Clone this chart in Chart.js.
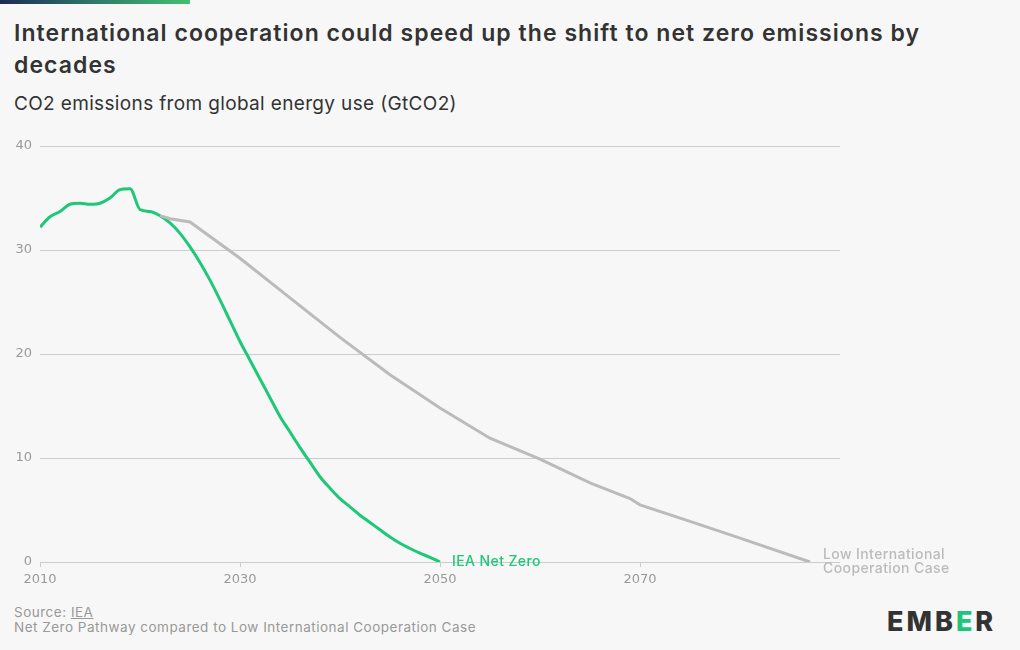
<!DOCTYPE html>
<html>
<head>
<meta charset="utf-8">
<script src="https://cdn.jsdelivr.net/npm/chart.js@4.4.0/dist/chart.umd.min.js"></script>
<style>
  html,body{margin:0;padding:0;background:#f7f7f7;}
  body{width:1020px;height:650px;position:relative;overflow:hidden;font-family:Inter, "Noto Sans", sans-serif;}
  #bar{position:absolute;left:0;top:0;width:190px;height:4px;background:linear-gradient(90deg,#1c2a55,#2f7a6a 50%,#42c070);}
  #title{position:absolute;left:14px;top:17px;width:990px;font-size:23px;font-weight:600;color:#333;line-height:32px;letter-spacing:1.05px;}
  #subtitle{position:absolute;left:14px;top:92px;font-size:19px;color:#333;letter-spacing:0.35px;}
  #wrap{position:absolute;left:0;top:130px;width:1020px;height:470px;}
  #foot{position:absolute;left:14px;top:605px;font-size:13.5px;color:#999;line-height:15px;letter-spacing:0.5px;}
  #foot u{text-decoration:underline;}
  #logo{position:absolute;left:887px;top:605px;font-size:27px;font-weight:800;color:#333;letter-spacing:3px;font-family:Inter, sans-serif;}
  #logo span{color:#21c47a;}
</style>
</head>
<body>
<div id="bar"></div>
<div id="title">International cooperation could speed up the shift to net zero emissions by decades</div>
<div id="subtitle">CO2 emissions from global energy use (GtCO2)</div>
<div id="wrap"><canvas id="c"></canvas></div>
<div id="foot">Source: <u>IEA</u><br>Net Zero Pathway compared to Low International Cooperation Case</div>
<div id="logo">EMB<span>E</span>R</div>
<script>
const netZeroYears = [2010,2011,2012,2013,2014,2015,2016,2017,2018,2019,2020,2021,2022,2023,2024,2025,2026,2027,2028,2029,2030,2031,2032,2033,2034,2035,2036,2037,2038,2039,2040,2041,2042,2043,2044,2045,2046,2047,2048,2049,2050];
const netZeroValues = [32.2,33.2,33.7,34.4,34.5,34.4,34.5,35.0,35.8,35.9,33.9,33.7,33.3,32.6,31.6,30.3,28.8,27.1,25.2,23.2,21.2,19.4,17.6,15.8,14.0,12.5,11.0,9.6,8.2,7.1,6.1,5.3,4.5,3.8,3.1,2.4,1.8,1.3,0.85,0.45,0];
const lowCoopYears = [2022,2023,2025,2030,2035,2040,2045,2050,2055,2060,2065,2069,2070,2075,2080,2087];
const lowCoopValues = [33.3,33.0,32.7,29.2,25.4,21.6,18.0,14.8,11.9,9.9,7.6,6.1,5.5,3.9,2.3,0];
const yTicks = [0,10,20,30,40];
const xTicks = [2010,2030,2050,2070];
const seriesNames = ["IEA Net Zero","Low International Cooperation Case"];

const GREEN = '#1ec878';
const GREY = '#bbbbbb';
const TICKFONT = {size:13, family:'"DejaVu Sans", sans-serif'};

const toXY = (xs, ys) => xs.map((x,i)=>({x:x,y:ys[i]}));

const endLabels = {
  id:'endLabels',
  afterDatasetsDraw(chart){
    const ctx = chart.ctx;
    const xs = chart.scales.x, ys = chart.scales.y;
    ctx.save();
    ctx.font = '500 14px Inter, "Noto Sans", sans-serif';
    try { ctx.letterSpacing = '0.4px'; } catch(e) {}
    ctx.textBaseline = 'middle';
    ctx.textAlign = 'left';
    let px = xs.getPixelForValue(netZeroYears[netZeroYears.length-1]);
    let py = ys.getPixelForValue(netZeroValues[netZeroValues.length-1]);
    ctx.fillStyle = GREEN;
    ctx.fillText(seriesNames[0], px+12, py);
    px = xs.getPixelForValue(lowCoopYears[lowCoopYears.length-1]);
    py = ys.getPixelForValue(lowCoopValues[lowCoopValues.length-1]);
    ctx.fillStyle = GREY;
    ctx.fillText('Low International', px+13, py-7);
    ctx.fillText('Cooperation Case', px+13, py+7);
    ctx.restore();
  }
};

new Chart(document.getElementById('c'), {
  type:'line',
  data:{
    datasets:[
      {label:seriesNames[1], data:toXY(lowCoopYears,lowCoopValues), borderColor:GREY, borderWidth:3, pointRadius:0, tension:0, fill:false},
      {label:seriesNames[0], data:toXY(netZeroYears,netZeroValues), borderColor:GREEN, borderWidth:3, pointRadius:0, cubicInterpolationMode:'monotone', fill:false}
    ]
  },
  options:{
    responsive:true, maintainAspectRatio:false, animation:false,
    layout:{padding:{top:16,right:180,left:0,bottom:0}},
    plugins:{legend:{display:false}, tooltip:{enabled:false}},
    scales:{
      x:{type:'linear', min:2010, max:2090,
        afterBuildTicks(s){ s.ticks = xTicks.map(v=>({value:v})); },
        afterFit(s){ s.height = 38; },
        border:{display:false},
        grid:{display:true, drawOnChartArea:false, drawTicks:true, tickLength:5, color:'#cccccc'},
        ticks:{color:'#999', font:TICKFONT, padding:5, maxRotation:0, callback:v=>String(v)}
      },
      y:{min:0, max:40,
        afterBuildTicks(s){ s.ticks = yTicks.map(v=>({value:v})); },
        afterFit(s){ s.width = 40; },
        border:{display:false},
        grid:{color:'#cccccc', drawTicks:false, lineWidth:1},
        ticks:{color:'#999', font:TICKFONT, padding:8}
      }
    }
  },
  plugins:[endLabels]
});
</script>
</body>
</html>
